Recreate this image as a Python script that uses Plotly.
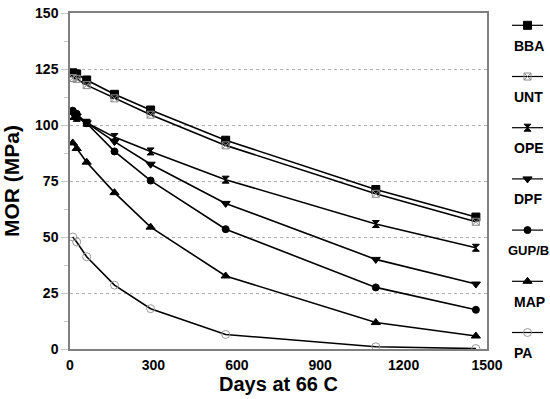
import plotly.graph_objects as go

# ---- data ----
days = [10, 24, 60, 160, 290, 560, 1100, 1460]
series_names = ["BBA", "UNT", "OPE", "DPF", "GUP/B", "MAP", "PA"]
bba = [123.3, 122.8, 120.1, 113.7, 106.7, 93.2, 71.2, 58.9]
unt = [121.0, 120.6, 117.8, 111.9, 104.6, 90.9, 69.3, 56.8]
ope = [104.0, 103.2, 101.0, 94.6, 88.2, 75.6, 55.8, 45.2]
dpf = [105.2, 104.0, 101.0, 92.6, 82.5, 65.0, 40.0, 29.0]
gupb = [106.4, 105.0, 100.8, 88.2, 75.2, 53.5, 27.5, 17.5]
mapv = [92.0, 89.5, 83.4, 69.8, 54.4, 32.6, 11.8, 5.8]
pa = [50.0, 47.8, 41.2, 28.5, 18.0, 6.5, 1.0, 0.2]
values = [bba, unt, ope, dpf, gupb, mapv, pa]
x_ticks = [0, 300, 600, 900, 1200, 1500]
y_ticks = [0, 25, 50, 75, 100, 125, 150]

# ---- styles ----
styles = [
    dict(symbol="square", color="black", size=8),
    dict(symbol="square-x-open", color="#8a8a8a", size=7),
    dict(symbol="hourglass", color="black", size=7),
    dict(symbol="triangle-down", color="black", size=8),
    dict(symbol="circle", color="black", size=7),
    dict(symbol="triangle-up", color="black", size=8),
    dict(symbol="circle-open", color="#9a9a9a", size=8),
]

W, H = 550, 399
FONT = "Arial, Liberation Sans, sans-serif"

fig = go.Figure()
for name, vals, st in zip(series_names, values, styles):
    fig.add_trace(go.Scatter(
        x=days, y=vals, mode="lines+markers", name=name,
        line=dict(color="black", width=1.6),
        marker=dict(symbol=st["symbol"], color=st["color"], size=st["size"],
                    line=dict(color=st["color"], width=1)),
        showlegend=False, xaxis="x", yaxis="y",
    ))

# ---- custom legend (symbol above label), in pixel space of a helper axis ----
leg_top = 25.3
leg_step = 51.2
annotations = []
for i, (name, st) in enumerate(zip(series_names, styles)):
    yl = leg_top + i * leg_step
    fig.add_trace(go.Scatter(
        x=[512, 543], y=[yl, yl], mode="lines",
        line=dict(color="black", width=1.2),
        showlegend=False, hoverinfo="skip", xaxis="x2", yaxis="y2"))
    fig.add_trace(go.Scatter(
        x=[527.5], y=[yl], mode="markers",
        marker=dict(symbol=st["symbol"], color=st["color"], size=st["size"],
                    line=dict(color=st["color"], width=1)),
        showlegend=False, hoverinfo="skip", xaxis="x2", yaxis="y2"))
    long_label = len(name) > 4
    annotations.append(dict(
        x=506 if long_label else 511.5, y=yl + 20.3, xref="x2", yref="y2", text=name,
        showarrow=False, xanchor="left", yanchor="middle",
        font=dict(family=FONT, size=13 if long_label else 14, color="black", weight="bold")))

fig.update_layout(
    width=W, height=H,
    margin=dict(l=0, r=0, t=0, b=0),
    paper_bgcolor="white", plot_bgcolor="white",
    font=dict(family=FONT, color="black"),
    annotations=annotations,
    xaxis=dict(
        domain=[70 / W, 487 / W], range=[0, 1500],
        tickvals=x_ticks, ticks="", showgrid=False, zeroline=False,
        showline=True, mirror=True, linecolor="#808080", linewidth=1.5,
        tickfont=dict(family=FONT, size=14, color="black", weight="bold"),
        ticklabelstandoff=2,
        title=dict(text="Days at 66 C", standoff=4,
                   font=dict(family=FONT, size=20, color="black", weight="bold")),
        automargin=False,
    ),
    yaxis=dict(
        domain=[50 / H, 386 / H], range=[0, 150],
        tickvals=y_ticks, ticks="outside", ticklen=7, tickcolor="#c8c8c8",
        showgrid=True, gridcolor="#b0b0b0", griddash="dot", gridwidth=1,
        zeroline=False,
        showline=True, mirror=True, linecolor="#808080", linewidth=1.5,
        minor=dict(dtick=12.5, ticks="outside", ticklen=4, tickcolor="#c8c8c8", showgrid=False),
        tickfont=dict(family=FONT, size=14, color="black", weight="bold"),
        title=dict(text="MOR (MPa)", standoff=10,
                   font=dict(family=FONT, size=21, color="black", weight="bold")),
        automargin=False,
    ),
    xaxis2=dict(domain=[495 / W, 1], range=[495, 550], visible=False, fixedrange=True),
    yaxis2=dict(domain=[0, 1], range=[H, 0], visible=False, fixedrange=True, anchor="x2"),
)

fig.write_html(
    "out.html",
    config={"displayModeBar": False},
    post_script="document.body.style.margin='0';document.body.style.overflow='hidden';",
)
